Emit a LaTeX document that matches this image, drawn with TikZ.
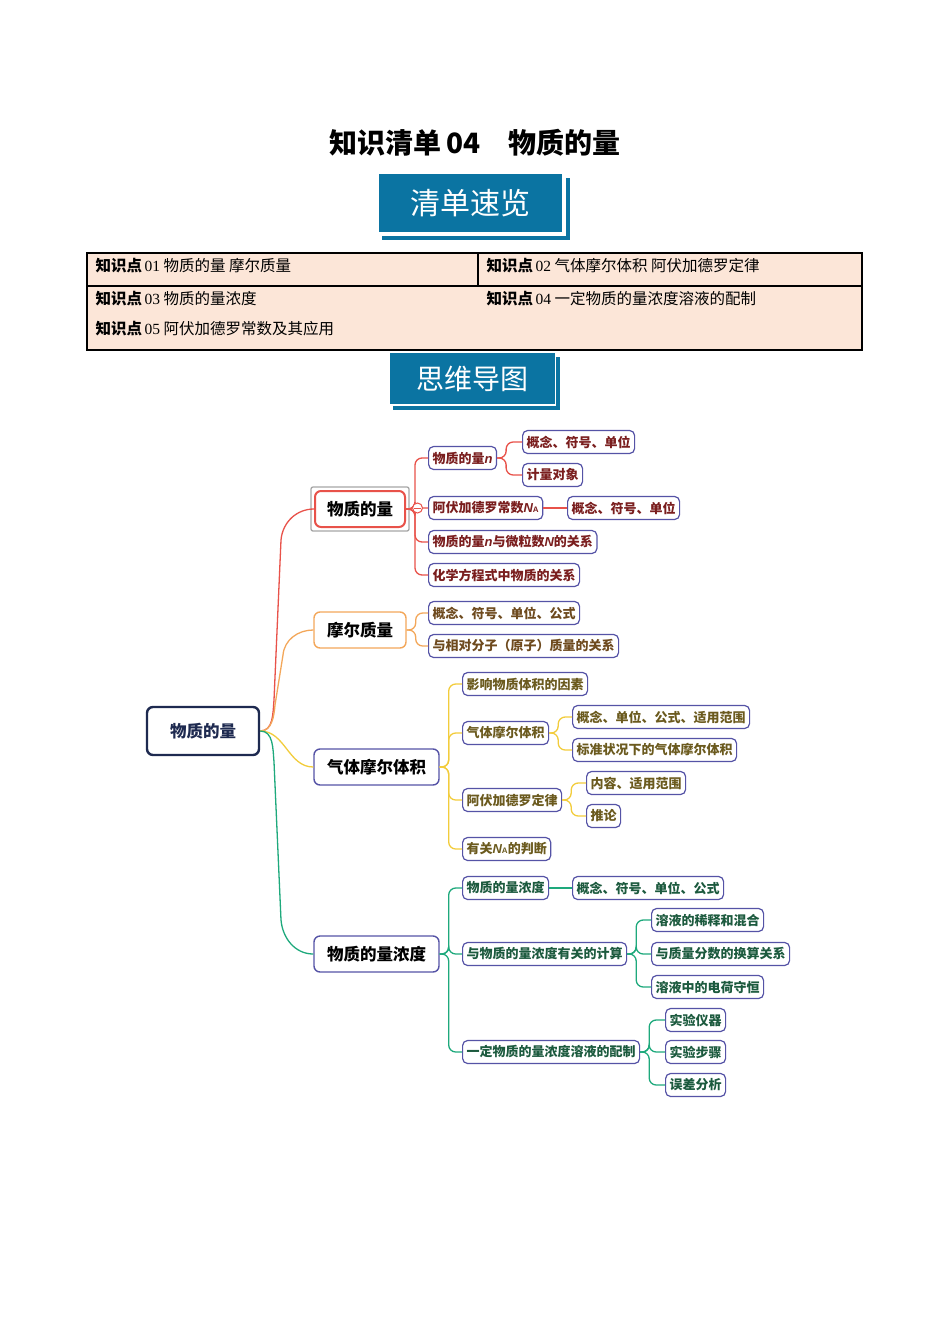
\documentclass[tikz,border=0pt]{standalone}
\usepackage{fontspec}
\setmainfont{Liberation Serif}
\newfontfamily\cjk{Noto Sans CJK SC}
\newfontfamily\latn{Liberation Sans}
\usetikzlibrary{calc}
\definecolor{bannerblue}{HTML}{0B74A2}
\definecolor{tablefill}{HTML}{FCE6D8}
\definecolor{leafline}{HTML}{5553A6}
\definecolor{redline}{HTML}{E8524A}
\definecolor{orangeline}{HTML}{F3A75A}
\definecolor{yellowline}{HTML}{F2CC3C}
\definecolor{greenline}{HTML}{1EA97C}
\definecolor{redtext}{HTML}{7A1E1E}
\definecolor{browntext}{HTML}{6E4A1E}
\definecolor{olivetext}{HTML}{6B5A1E}
\definecolor{greentext}{HTML}{1C5A3E}
\definecolor{roottext}{HTML}{1E2A50}
\newcommand{\sym}[1]{{\latn\bfseries\itshape #1}}
\newcommand{\NA}{\sym{N}{\latn\fontsize{8}{8}\selectfont A}}
\newcommand{\kp}[1]{{\cjk\bfseries 知识点}\,{\rmfamily #1}\ }
\tikzset{
  leaf/.style={draw=leafline, line width=1.2pt, rounded corners=5pt, fill=white,
    anchor=west, minimum height=23pt, inner xsep=4pt, inner ysep=2pt,
    font=\cjk\bfseries\fontsize{13}{13}\selectfont},
  topic/.style={draw=leafline, line width=1.4pt, rounded corners=6pt, fill=white,
    minimum height=36pt, inner xsep=10pt, font=\cjk\bfseries\fontsize{16.5}{16.5}\selectfont},
  banner/.style={fill=bannerblue, text=white, font=\cjk\fontsize{30}{30}\selectfont},
  branch/.style={line width=1.3pt, rounded corners=7pt},
  tabtext/.style={anchor=west, font=\cjk\fontsize{15.5}{15.5}\selectfont}
}
\newcommand{\link}[3]{\draw[branch,#3] (#1.east) -- ++(9,0) |- (#2.west);}
\begin{document}
\begin{tikzpicture}[x=1pt,y=-1pt]
\useasboundingbox (0,0) rectangle (950,1344);

% title and banners
\node (title) at (475,143) {\cjk\bfseries\fontsize{28}{28}\selectfont 知识清单\,04\quad 物质的量};
\fill[bannerblue] (382,236) rectangle (568,240);
\fill[bannerblue] (566,178) rectangle (570,240);
\node[banner, minimum width=183pt, minimum height=58pt] (quick) at (470.5,203) {清单速览};
\fill[bannerblue] (393,406) rectangle (560,410);
\fill[bannerblue] (556,357) rectangle (560,410);
\node[banner, minimum width=165pt, minimum height=51pt, font=\cjk\fontsize{28}{28}\selectfont] (mind) at (472.5,378.5) {思维导图};

% table
\draw[fill=tablefill, line width=1.8pt] (87,253) rectangle (862,350);
\draw[line width=1.5pt] (87,286) -- (862,286);
\draw[line width=1.5pt] (478,253) -- (478,286);
\node[tabtext] (k1) at (92,266) {\kp{01}物质的量 摩尔质量};
\node[tabtext] (k2) at (483,266) {\kp{02}气体摩尔体积 阿伏加德罗定律};
\node[tabtext] (k3) at (92,299) {\kp{03}物质的量浓度};
\node[tabtext] (k4) at (483,299) {\kp{04}一定物质的量浓度溶液的配制};
\node[tabtext] (k5) at (92,329) {\kp{05}阿伏加德罗常数及其应用};

% mind map
\node[topic, draw=roottext, line width=2.4pt, text=roottext, minimum width=112pt, minimum height=48pt] (root) at (203,731) {物质的量};
\draw[gray!70, line width=1.3pt, rounded corners=2pt] (311,487) rectangle (409,531);
\node[topic, draw=redline, line width=2pt, minimum width=90pt] (amount) at (360,509) {物质的量};
\node[topic, draw=orangeline, minimum width=92pt] (molar) at (360,630) {摩尔质量};
\node[topic, minimum width=125pt] (gas) at (376.5,767) {气体摩尔体积};
\node[topic, minimum width=125pt] (conc) at (376.5,954) {物质的量浓度};

\draw[line width=1.3pt, redline] (root.east) to[out=0,in=-95] (274,700) -- (281,540) to[out=85,in=180] (amount.west);
\draw[line width=1.3pt, orangeline] (root.east) to[out=0,in=-95] (275,705) -- (283,655) to[out=85,in=180] (molar.west);
\draw[line width=1.3pt, yellowline] (root.east) to[out=0,in=180] (gas.west);
\draw[line width=1.3pt, greenline] (root.east) to[out=0,in=95] (274,762) -- (281,920) to[out=-85,in=180] (conc.west);

% red group
\begin{scope}[every node/.append style={text=redtext}]
\node[leaf] (an) at (428,458) {物质的量\sym{n}};
\node[leaf] (an1) at (522,442) {概念、符号、单位};
\node[leaf] (an2) at (522,475) {计量对象};
\node[leaf] (av) at (428,508) {阿伏加德罗常数\NA};
\node[leaf] (av1) at (567,508) {概念、符号、单位};
\node[leaf] (rel) at (428,542) {物质的量\sym{n}与微粒数\sym{N}的关系};
\node[leaf] (eq) at (428,575) {化学方程式中物质的关系};
\end{scope}
\foreach \c in {an,av,rel,eq} {\link{amount}{\c}{redline}}
\link{an}{an1}{redline}
\link{an}{an2}{redline}
\draw[branch, redline] (av.east) -- (av1.west);
\draw[redline, fill=white, line width=1pt] (417.5,508) circle (5pt);
\draw[redline, line width=1pt] (414,508) -- (421,508);

% orange group
\begin{scope}[every node/.append style={text=browntext}]
\node[leaf] (mc) at (428,613) {概念、符号、单位、公式};
\node[leaf] (mr) at (428,646) {与相对分子（原子）质量的关系};
\end{scope}
\foreach \c in {mc,mr} {\link{molar}{\c}{orangeline}}

% yellow group
\begin{scope}[every node/.append style={text=olivetext}]
\node[leaf] (gf) at (462,684) {影响物质体积的因素};
\node[leaf] (gv) at (462,733) {气体摩尔体积};
\node[leaf] (gv1) at (572,717) {概念、单位、公式、适用范围};
\node[leaf] (gv2) at (572,750) {标准状况下的气体摩尔体积};
\node[leaf] (law) at (462,800) {阿伏加德罗定律};
\node[leaf] (law1) at (586,783) {内容、适用范围};
\node[leaf] (law2) at (586,816) {推论};
\node[leaf] (na) at (462,849) {有关\NA 的判断};
\end{scope}
\foreach \c in {gf,gv,law,na} {\link{gas}{\c}{yellowline}}
\link{gv}{gv1}{yellowline}
\link{gv}{gv2}{yellowline}
\link{law}{law1}{yellowline}
\link{law}{law2}{yellowline}

% green group
\begin{scope}[every node/.append style={text=greentext}]
\node[leaf] (cc) at (462,888) {物质的量浓度};
\node[leaf] (cc1) at (572,888) {概念、符号、单位、公式};
\node[leaf] (calc) at (462,954) {与物质的量浓度有关的计算};
\node[leaf] (calc1) at (651,920) {溶液的稀释和混合};
\node[leaf] (calc2) at (651,954) {与质量分数的换算关系};
\node[leaf] (calc3) at (651,987) {溶液中的电荷守恒};
\node[leaf] (prep) at (462,1052) {一定物质的量浓度溶液的配制};
\node[leaf] (prep1) at (665,1020) {实验仪器};
\node[leaf] (prep2) at (665,1052) {实验步骤};
\node[leaf] (prep3) at (665,1085) {误差分析};
\end{scope}
\foreach \c in {cc,calc,prep} {\link{conc}{\c}{greenline}}
\draw[branch, greenline] (cc.east) -- (cc1.west);
\foreach \c in {calc1,calc2,calc3} {\link{calc}{\c}{greenline}}
\foreach \c in {prep1,prep2,prep3} {\link{prep}{\c}{greenline}}
\end{tikzpicture}
\end{document}
